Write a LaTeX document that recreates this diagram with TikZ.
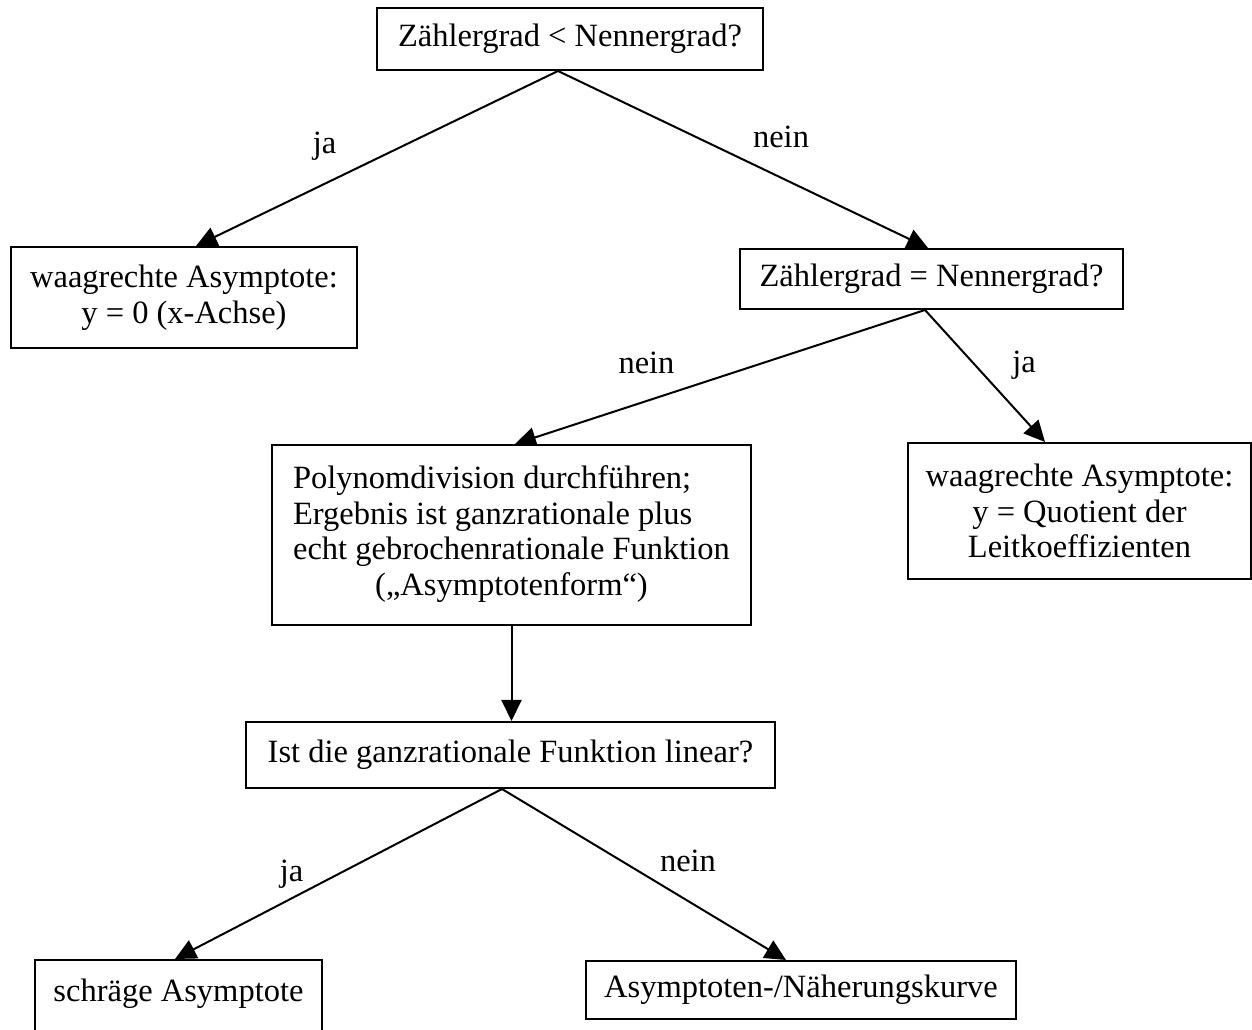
\documentclass[tikz,border=0pt]{standalone}
\usepackage{fontspec}
\setmainfont{Liberation Serif}
\usetikzlibrary{arrows.meta,calc}
\pgfdeclarelayer{bg}
\pgfsetlayers{bg,main}
\begin{document}
\begin{tikzpicture}[x=0.4pt,y=-0.4pt,
  box/.style={draw, line width=0.8pt, fill=white, inner sep=0pt, align=center,
    font=\fontsize{13}{14.2}\selectfont},
  lbl/.style={inner sep=0pt, anchor=base, font=\fontsize{13}{14.2}\selectfont},
  arr/.style={line width=0.8pt, -{Triangle[length=8.4pt,width=8pt]}}]
\useasboundingbox (0,0) rectangle (1252,1030);

\node[box, minimum width=154.4pt, minimum height=24.8pt] (n1) at (570,39) {Zählergrad < Nennergrad?};
\node[box, minimum width=138.4pt, minimum height=40.4pt] (n2) at (184,297.5) {waagrechte Asymptote:\\ y = 0 (x-Achse)};
\node[box, minimum width=153.2pt, minimum height=24pt] (n3) at (931.5,279) {Zählergrad = Nennergrad?};
\node[box, minimum width=191.6pt, minimum height=72pt] (n4) at (511.5,535) {\begin{tabular}{@{}l@{}}Polynomdivision durchführen;\\ Ergebnis ist ganzrationale plus\\ echt gebrochenrationale Funktion\\ \multicolumn{1}{@{}c@{}}{(„Asymptotenform“)}\end{tabular}};
\node[box, minimum width=137.2pt, minimum height=54.4pt] (n5) at (1079.5,511) {waagrechte Asymptote:\\ y = Quotient der\\ Leitkoeffizienten};
\node[box, minimum width=211.6pt, minimum height=26.4pt] (n6) at (510.5,755) {Ist die ganzrationale Funktion linear?};
\node[box, minimum width=114.8pt, text height=16.4pt, text depth=17.6pt, anchor=north] (n7) at (178.5,959) {schräge Asymptote};
\node[box, minimum width=172pt, minimum height=23.2pt] (n8) at (801,990) {Asymptoten-/Näherungskurve};

\node[lbl] (l1) at (324.5,154) {ja};
\node[lbl] (l2) at (781,148) {nein};
\node[lbl] (l3) at (646.5,374) {nein};
\node[lbl] (l4) at (1024,373) {ja};
\node[lbl] (l5) at (291.5,881) {ja};
\node[lbl] (l6) at (688,871) {nein};

\begin{pgfonlayer}{bg}
\draw[arr] ($(n1.south)+(-12,0)$) -- ($(n2.north)+(12,0)$);
\draw[arr] ($(n1.south)+(-12,0)$) -- ($(n3.north)+(-3.5,0)$);
\draw[arr] ($(n3.south)+(-6.5,0)$) -- ($(n4.north)+(3.5,0)$);
\draw[arr] ($(n3.south)+(-6.5,0)$) -- ($(n5.north)+(-34.5,0)$);
\draw[arr] (n4.south) -- (n4.south |- n6.north);
\draw[arr] ($(n6.south)+(-8.5,0)$) -- ($(n7.north)+(-3.5,0)$);
\draw[arr] ($(n6.south)+(-8.5,0)$) -- ($(n8.north)+(-15,0)$);
\end{pgfonlayer}
\end{tikzpicture}
\end{document}
